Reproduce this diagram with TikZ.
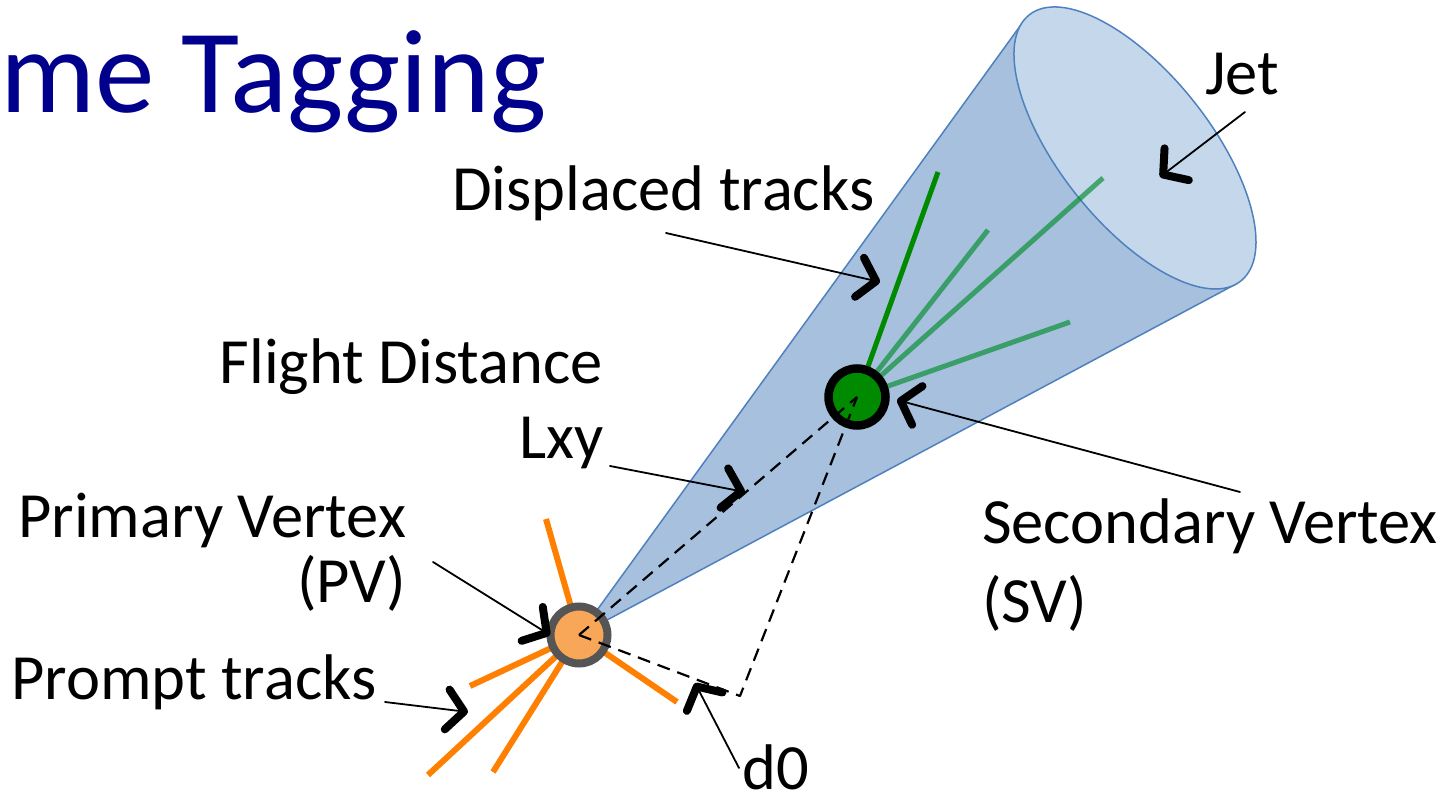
\documentclass[tikz,border=0pt]{standalone}
\usepackage{fontspec}
\setmainfont{Carlito}
\usetikzlibrary{arrows.meta}
\definecolor{titleblue}{RGB}{0,0,140}
\definecolor{conebody}{RGB}{166,192,222}
\definecolor{coneface}{RGB}{197,215,235}
\definecolor{coneedge}{RGB}{79,129,189}
\definecolor{svgreen}{RGB}{0,138,0}
\definecolor{trackgreen}{RGB}{0,140,40}
\definecolor{promptorange}{RGB}{255,128,0}
\definecolor{pvfill}{RGB}{247,167,87}
\definecolor{pvring}{RGB}{85,85,85}
\tikzset{
  lbl/.style={font=\fontsize{64.5}{76}\selectfont, inner sep=0pt},
  pointer/.style={line width=1.8pt, line cap=round,
    -{Straight Barb[length=17pt,width=40pt,line width=8pt,round]}},
  promptline/.style={promptorange, line width=6pt},
  sectrack/.style={trackgreen, line width=5pt, opacity=0.65},
  flightpath/.style={black, line width=2.2pt, dash pattern=on 13pt off 8pt},
}
\begin{document}
\begin{tikzpicture}[x=1pt,y=-1pt]
\useasboundingbox (0,0) rectangle (1454,802);

% key points
\coordinate (pv) at (579,635);
\coordinate (sv) at (857,397);
\coordinate (jc) at (1135,148);
\coordinate (t1) at (1023,22);
\coordinate (t2) at (1236,284);
\coordinate (perp) at (740,696);

% title
\node[inner sep=0pt, anchor=base west, text=titleblue,
      font=\fontsize{119}{136}\selectfont] (title) at (0,113) {me Tagging};

% jet cone
\fill[conebody] (pv) -- (t1) -- (t2) -- cycle;
\draw[coneedge, line width=1.5pt, line join=round] (t1) -- (pv) -- (t2);
\draw[coneedge, line width=1.5pt, fill=coneface, rotate around={-51.5:(jc)}]
  (jc) ellipse [x radius=170pt, y radius=75pt];

% displaced tracks from the secondary vertex
\coordinate (g1) at (938,172);
\coordinate (g2) at (988,230);
\coordinate (g3) at (1103,178);
\coordinate (g4) at (1070,322);
\draw[sectrack] (sv) -- (g2);
\draw[sectrack] (sv) -- (g3);
\draw[sectrack] (sv) -- (g4);
\draw[svgreen, line width=5pt] (sv) -- (g1);
\node[circle, draw=black, line width=8.5pt, fill=svgreen, minimum size=57pt,
      inner sep=0pt] (svc) at (sv) {};

% prompt tracks from the primary vertex
\coordinate (o1) at (546,519);
\coordinate (o2) at (470,686);
\coordinate (o3) at (428,775);
\coordinate (o4) at (493,772);
\coordinate (o5) at (677,702);
\foreach \p in {o1,o2,o3,o4,o5} \draw[promptline] (pv) -- (\p);
\node[circle, draw=pvring, line width=8pt, fill=pvfill, minimum size=57pt,
      inner sep=0pt] (pvc) at (pv) {};

% flight distance and impact parameter
\draw[flightpath] (pv) -- (sv);
\draw[flightpath, line join=round] (pv) -- (perp) -- (sv);

% labels
\node[lbl, anchor=base west] (jet) at (1205,95) {Jet};
\node[lbl, anchor=base west] (disp) at (452,211) {Displaced tracks};
\node[lbl, anchor=base east] (flight) at (603,383) {Flight Distance};
\node[lbl, anchor=base east] (lxy) at (604,458) {Lxy};
\node[lbl, anchor=base east] (prim) at (406,537) {Primary Vertex};
\node[lbl, anchor=base east] (pvl) at (406,602) {(PV)};
\node[lbl, anchor=base west] (prompt) at (11,699) {Prompt tracks};
\node[lbl, anchor=base west] (sec) at (982,543) {Secondary Vertex};
\node[lbl, anchor=base west] (svl) at (982,622) {(SV)};
\node[lbl, anchor=base west] (dzero) at (742,789) {d0};

% pointers
\coordinate (jetA) at (1245,112);   \coordinate (jetB) at (1160,177);
\coordinate (dispA) at (666,233);   \coordinate (dispB) at (880,282);
\coordinate (lxyA) at (610,466);    \coordinate (lxyB) at (745,492);
\coordinate (primA) at (433,562);   \coordinate (primB) at (550,635);
\coordinate (promptA) at (385,702); \coordinate (promptB) at (468,712);
\coordinate (secA) at (1240,492);   \coordinate (secB) at (897,400);
\coordinate (dA) at (739,768);      \coordinate (dB) at (695,683);
\draw[pointer] (jetA) -- (jetB);
\draw[pointer] (dispA) -- (dispB);
\draw[pointer] (lxyA) -- (lxyB);
\draw[pointer] (primA) -- (primB);
\draw[pointer] (promptA) -- (promptB);
\draw[pointer] (secA) -- (secB);
\draw[pointer] (dA) -- (dB);
\end{tikzpicture}
\end{document}
